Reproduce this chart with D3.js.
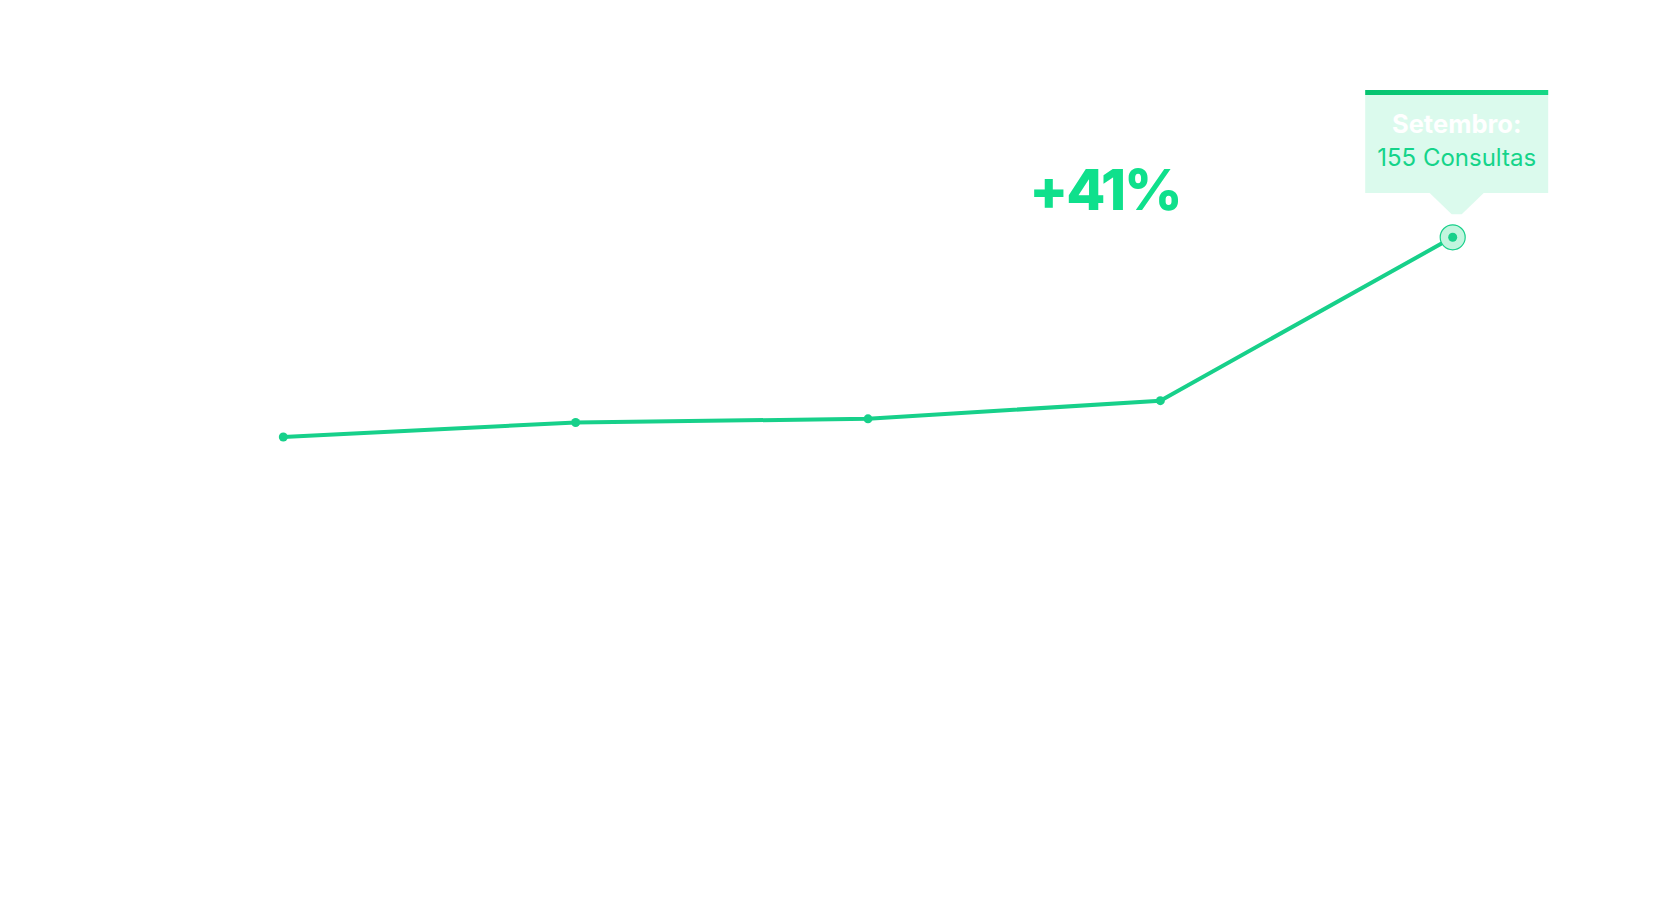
<!doctype html>
<html lang="pt">
<head>
  <meta charset="utf-8">
  <script src="https://d3js.org/d3.v7.min.js"></script>
  <title>Consultas</title>
  <style>
    html, body { margin: 0; padding: 0; background: #fff; }
    svg { display: block; }
  </style>
</head>
<body>
<script>
  // data
  var months = ["Maio", "Junho", "Julho", "Agosto", "Setembro"];
  var consultas = [100, 104, 105, 110, 155];
  var growthLabel = "+41%";

  var width = 1680, height = 900;
  var font = "Inter, 'Open Sans', sans-serif";

  var svg = d3.select("body").append("svg")
    .attr("width", width)
    .attr("height", height);

  var x = d3.scalePoint()
    .domain(months)
    .range([283.3, 1452.7]);

  var y = d3.scaleLinear()
    .domain([0, 155])
    .range([800, 237.3]);

  var data = months.map(function(m, i) { return { month: m, value: consultas[i] }; });

  var line = d3.line()
    .x(function(d) { return x(d.month); })
    .y(function(d) { return y(d.value); });

  svg.append("path")
    .datum(data)
    .attr("fill", "none")
    .attr("stroke", "#17d08a")
    .attr("stroke-width", 4)
    .attr("stroke-linejoin", "round")
    .attr("d", line);

  // highlight ring on last point
  var last = data[data.length - 1];
  svg.append("circle")
    .attr("cx", x(last.month))
    .attr("cy", y(last.value))
    .attr("r", 12.5)
    .attr("fill", "#c2f5de")
    .attr("stroke", "#17d08a")
    .attr("stroke-width", 1.2);

  svg.append("g")
    .selectAll("circle")
    .data(data)
    .enter()
    .append("circle")
    .attr("cx", function(d) { return x(d.month); })
    .attr("cy", function(d) { return y(d.value); })
    .attr("r", 4.5)
    .attr("fill", "#17d08a");

  // growth label
  svg.append("text")
    .attr("x", 1105)
    .attr("y", 210)
    .attr("text-anchor", "middle")
    .style("font-family", font)
    .style("font-weight", 800)
    .style("font-size", "57px")
    .style("letter-spacing", "-2px")
    .attr("fill", "#0fe08c")
    .text(growthLabel);

  // tooltip
  var tx = x(last.month) + 4, ty = y(last.value);
  var tip = svg.append("g");
  var bw = 183, bTop = 90, bBottom = 193;

  tip.append("rect")
    .attr("x", tx - bw / 2)
    .attr("y", bTop)
    .attr("width", bw)
    .attr("height", bBottom - bTop)
    .attr("fill", "#dbfaed");

  tip.append("polygon")
    .attr("points", [
      [tx - 27, bBottom], [tx - 5, ty - 23], [tx + 5, ty - 23], [tx + 27, bBottom]
    ].map(function(p) { return p.join(","); }).join(" "))
    .attr("fill", "#dbfaed");

  var grad = svg.append("defs").append("linearGradient")
    .attr("id", "bar");
  grad.append("stop").attr("offset", "0%").attr("stop-color", "#06c370");
  grad.append("stop").attr("offset", "100%").attr("stop-color", "#15d886");

  tip.append("rect")
    .attr("x", tx - bw / 2)
    .attr("y", bTop)
    .attr("width", bw)
    .attr("height", 5)
    .attr("fill", "url(#bar)");

  tip.append("text")
    .attr("x", tx)
    .attr("y", 133)
    .attr("text-anchor", "middle")
    .style("font-family", font)
    .style("font-weight", 700)
    .style("font-size", "25.5px")
    .attr("fill", "#ffffff")
    .text(last.month + ":");

  tip.append("text")
    .attr("x", tx)
    .attr("y", 166)
    .attr("text-anchor", "middle")
    .style("font-family", font)
    .style("font-weight", 400)
    .style("font-size", "24px")
    .attr("fill", "#14d48a")
    .text(last.value + " Consultas");
</script>
</body>
</html>
